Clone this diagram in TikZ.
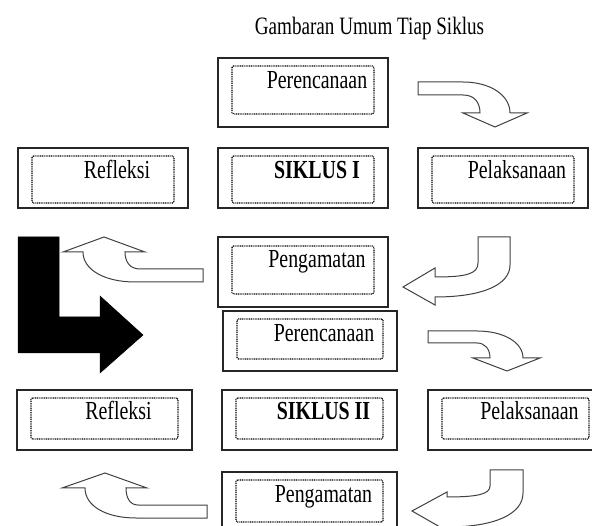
\documentclass[tikz,border=0pt]{standalone}
\usepackage{fontspec}
\setmainfont{Liberation Serif}
\usepackage{graphicx}
\newcommand{\sqz}[1]{\scalebox{0.765}[1]{#1}}
\begin{document}
\begin{tikzpicture}[x=1pt,y=-1pt,
  obox/.style={draw=black!85, line width=1.3pt, fill=white, inner sep=0pt},
  ibox/.style={draw=black, line width=1.1pt, dash pattern=on 1pt off 0.8pt, rounded corners=1.5pt, inner sep=0pt},
  lbl/.style={anchor=base, inner sep=0pt, font=\fontsize{26}{28}\selectfont},
  hollow/.style={draw=black!75, line width=1pt, fill=white, line join=miter},
  solid arrow/.style={fill=black, draw=black, line width=0.5pt}
]
\useasboundingbox (0,0) rectangle (592,526);
\clip (0,0) rectangle (592,526);

% title
\node[lbl, font=\fontsize{25}{27}\selectfont] (title) at (369.5,35) {\sqz{Gambaran Umum Tiap Siklus}};

% row 1: Perencanaan
\node[obox, minimum width=170pt, minimum height=69pt] (p1) at (303,92.5) {};
\node[ibox, minimum width=142pt, minimum height=48pt] (p1i) at (303,90) {};
\node[lbl] (p1t) at (317,89) {\sqz{Perencanaan}};

% row 2
\node[obox, minimum width=170pt, minimum height=60pt] (r1) at (103,178) {};
\node[ibox, minimum width=142pt, minimum height=47pt] (r1i) at (103,179.5) {};
\node[lbl] (r1t) at (117,179) {\sqz{Refleksi}};

\node[obox, minimum width=170pt, minimum height=60pt] (s1) at (303,178) {};
\node[ibox, minimum width=142pt, minimum height=47pt] (s1i) at (303,179.5) {};
\node[lbl] (s1t) at (317,179) {\sqz{\bfseries SIKLUS I}};

\node[obox, minimum width=170pt, minimum height=60pt] (l1) at (503,178) {};
\node[ibox, minimum width=142pt, minimum height=47pt] (l1i) at (503,179.5) {};
\node[lbl] (l1t) at (517,179) {\sqz{Pelaksanaan}};

% row 3: Pengamatan
\node[obox, minimum width=170pt, minimum height=70pt] (g1) at (303,272) {};
\node[ibox, minimum width=142pt, minimum height=48pt] (g1i) at (303,270) {};
\node[lbl] (g1t) at (317,268) {\sqz{Pengamatan}};

% row 4: Perencanaan II
\node[obox, minimum width=174pt, minimum height=60pt] (p2) at (310,341) {};
\node[ibox, minimum width=146pt, minimum height=40pt] (p2i) at (310,339) {};
\node[lbl] (p2t) at (324,342) {\sqz{Perencanaan}};

% row 5
\node[obox, minimum width=175pt, minimum height=60pt] (r2) at (104.5,420) {};
\node[ibox, minimum width=147pt, minimum height=41pt] (r2i) at (104.5,418.5) {};
\node[lbl] (r2t) at (118.5,420) {\sqz{Refleksi}};

\node[obox, minimum width=175pt, minimum height=60pt] (s2) at (309.5,420) {};
\node[ibox, minimum width=147pt, minimum height=41pt] (s2i) at (309.5,418.5) {};
\node[lbl] (s2t) at (323.5,420) {\sqz{\bfseries SIKLUS II}};

\node[obox, minimum width=175pt, minimum height=60pt] (l2) at (515.5,420) {};
\node[ibox, minimum width=147pt, minimum height=41pt] (l2i) at (515.5,418.5) {};
\node[lbl] (l2t) at (529.5,420) {\sqz{Pelaksanaan}};

% row 6: Pengamatan II
\node[obox, minimum width=175pt, minimum height=68pt] (g2) at (309.5,506) {};
\node[ibox, minimum width=147pt, minimum height=42pt] (g2i) at (309.5,501) {};
\node[lbl] (g2t) at (323.5,503) {\sqz{Pengamatan}};

% block arrows
% A: Perencanaan -> Pelaksanaan (cycle I)
\draw[hollow] (418,82) -- (463,82) .. controls (490,82) and (510,95) .. (510,113)
  -- (527,113) -- (495,127) -- (463,113) -- (480,113)
  .. controls (480,102) and (474,95) .. (463,95) -- (418,95) -- cycle;
% B: Pelaksanaan -> Pengamatan (cycle I)
\draw[hollow] (478,237) -- (510,237) -- (510,265) .. controls (510,285) and (482,297) .. (435,297)
  -- (435,305) -- (403,287) -- (435,268) -- (435,277)
  .. controls (466,277) and (478,274) .. (478,263) -- cycle;
% C: Pengamatan -> Refleksi (cycle I)
\draw[hollow] (203,269) -- (140,269) .. controls (130,269) and (125,262) .. (125,252)
  -- (145,252) -- (104,237) -- (63,252) -- (83,252)
  .. controls (83,270) and (105,282) .. (135,282) -- (203,282) -- cycle;
% black L arrow: to cycle II
\draw[solid arrow] (18,237) -- (59,237) -- (59,317) -- (100,317) -- (100,296) -- (143,335)
  -- (100,373) -- (100,353) -- (18,353) -- cycle;
% D: Perencanaan -> Pelaksanaan (cycle II)
\draw[hollow] (428,331) -- (477,331) .. controls (503,331) and (523,342) .. (523,358)
  -- (540,358) -- (507,371) -- (473,358) -- (490,358)
  .. controls (490,349) and (485,343) .. (477,343) -- (428,343) -- cycle;
% E: Pengamatan -> Refleksi (cycle II)
\draw[hollow] (207,505) -- (138,505) .. controls (130,505) and (126,498) .. (126,488)
  -- (147,488) -- (105,473) -- (62,488) -- (85,488)
  .. controls (85,506) and (106,518) .. (136,518) -- (207,518) -- cycle;
% F: Pelaksanaan -> Pengamatan (cycle II)
\draw[hollow] (490,470) -- (523,470) -- (523,493) .. controls (523,514) and (495,527) .. (447,527)
  -- (447,531) -- (412,511) -- (447,492) -- (447,497)
  .. controls (478,497) and (490,494) .. (490,486) -- cycle;
\end{tikzpicture}
\end{document}
